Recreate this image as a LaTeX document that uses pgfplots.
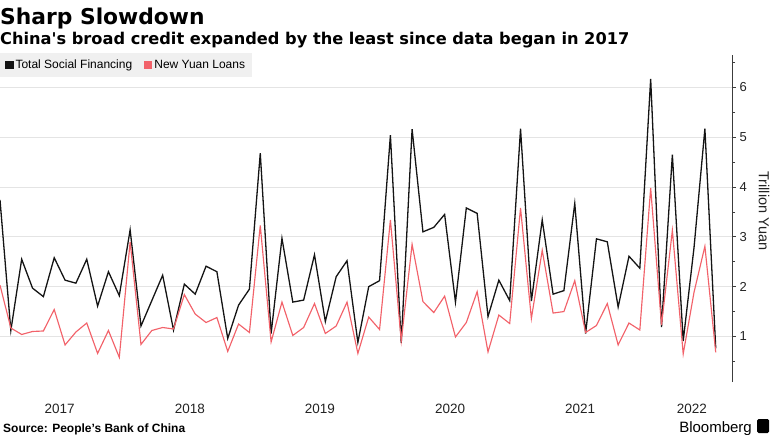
\documentclass[border=0pt]{standalone}
\usepackage{fontspec}
\setmainfont{Liberation Sans}
\newfontfamily\titlefont{DejaVu Sans}
\usepackage{pgfplots}
\usepackage{pgfplotstable}
\pgfplotsset{compat=1.18}
\definecolor{tsf}{RGB}{20,20,20}
\definecolor{loans}{RGB}{242,98,106}
\definecolor{gridc}{RGB}{228,228,228}
\definecolor{legbg}{RGB}{240,240,240}
\definecolor{ticktext}{RGB}{35,35,35}
\definecolor{axisc}{RGB}{60,60,60}

\pgfplotstableread{
i tsf loans
0 3.74 2.03
1 1.12 1.17
2 2.55 1.04
3 1.97 1.10
4 1.80 1.11
5 2.58 1.54
6 2.13 0.83
7 2.07 1.09
8 2.55 1.27
9 1.61 0.66
10 2.30 1.12
11 1.82 0.58
12 3.14 2.90
13 1.21 0.84
14 1.72 1.12
15 2.23 1.18
16 1.13 1.15
17 2.05 1.84
18 1.85 1.45
19 2.41 1.28
20 2.30 1.38
21 0.96 0.70
22 1.63 1.25
23 1.95 1.08
24 4.68 3.23
25 1.06 0.89
26 2.97 1.69
27 1.69 1.02
28 1.73 1.18
29 2.64 1.66
30 1.30 1.06
31 2.20 1.21
32 2.52 1.69
33 0.88 0.66
34 2.00 1.39
35 2.12 1.14
36 5.04 3.34
37 0.87 0.91
38 5.16 2.85
39 3.10 1.70
40 3.19 1.48
41 3.45 1.81
42 1.69 0.99
43 3.58 1.28
44 3.47 1.90
45 1.40 0.69
46 2.13 1.43
47 1.72 1.26
48 5.17 3.58
49 1.71 1.36
50 3.34 2.73
51 1.85 1.47
52 1.92 1.50
53 3.67 2.12
54 1.06 1.08
55 2.96 1.22
56 2.90 1.66
57 1.59 0.83
58 2.61 1.27
59 2.37 1.13
60 6.17 3.98
61 1.19 1.23
62 4.65 3.13
63 0.91 0.65
64 2.79 1.89
65 5.17 2.81
66 0.76 0.68
}\credit

\begin{document}
\begin{tikzpicture}
\path[use as bounding box] (0pt,-435pt) rectangle (775pt,0pt);
\begin{axis}[
  at={(0pt,-382pt)}, anchor=south west,
  scale only axis, width=732pt, height=327pt,
  xmin=0, xmax=67.5, ymin=0.086, ymax=6.65,
  axis y line*=right, axis x line*=bottom,
  x axis line style={draw=none},
  y axis line style={draw=axisc, line width=0.8pt},
  xtick={5.5,17.5,29.5,41.5,53.5,63.8},
  xticklabels={2017,2018,2019,2020,2021,2022},
  xtick style={draw=none},
  xticklabel style={font=\fontsize{13.5}{13.5}\selectfont, text=ticktext, yshift=-15pt},
  ytick={1,2,3,4,5,6},
  minor ytick={0.5,1.5,2.5,3.5,4.5,5.5,6.5},
  tick align=outside,
  major tick length=4pt, minor tick length=3pt,
  ytick style={draw=axisc, line width=0.8pt},
  yticklabel style={font=\fontsize{13}{13}\selectfont, text=ticktext},
  /pgf/number format/assume math mode=true,
  ymajorgrids, grid style={gridc, line width=0.8pt},
  clip=true,
  legend style={at={(0,1)}, anchor=north west, yshift=2pt, fill=legbg, draw=none,
    font=\fontsize{12}{12}\selectfont, inner xsep=5pt, inner ysep=5pt,
    /tikz/every even column/.append style={column sep=10pt}},
  legend columns=2,
  legend cell align=left,
  legend image code/.code={\fill[#1] (0pt,-3.5pt) rectangle (7pt,3.5pt);},
]
\addplot[color=tsf, line width=1.3pt, line join=miter] table[x=i, y=tsf] {\credit};
\addlegendentry{Total Social Financing}
\addplot[color=loans, line width=1.15pt, line join=miter] table[x=i, y=loans] {\credit};
\addlegendentry{New Yuan Loans}
\end{axis}
\node[anchor=base west, inner sep=0, font=\titlefont\fontsize{21.8}{21.8}\selectfont\bfseries] at (0pt,-25pt) {Sharp Slowdown};
\node[anchor=base west, inner sep=0, font=\titlefont\fontsize{16.2}{16.2}\selectfont\bfseries] at (0pt,-45pt) {China's broad credit expanded by the least since data began in 2017};
\node[rotate=-90, inner sep=0, font=\fontsize{14.5}{14.5}\selectfont, text=ticktext] at (764pt,-211pt) {Trillion Yuan};
\node[anchor=base west, inner sep=0, font=\fontsize{12}{12}\selectfont\bfseries] at (3pt,-432pt) {Source: People's Bank of China};
\node[anchor=base east, inner sep=0, font=\fontsize{15}{15}\selectfont] at (752pt,-432pt) {Bloomberg};
\fill[black, rounded corners=1.5pt] (757pt,-433pt) rectangle (769pt,-419pt);
\end{tikzpicture}
\end{document}
